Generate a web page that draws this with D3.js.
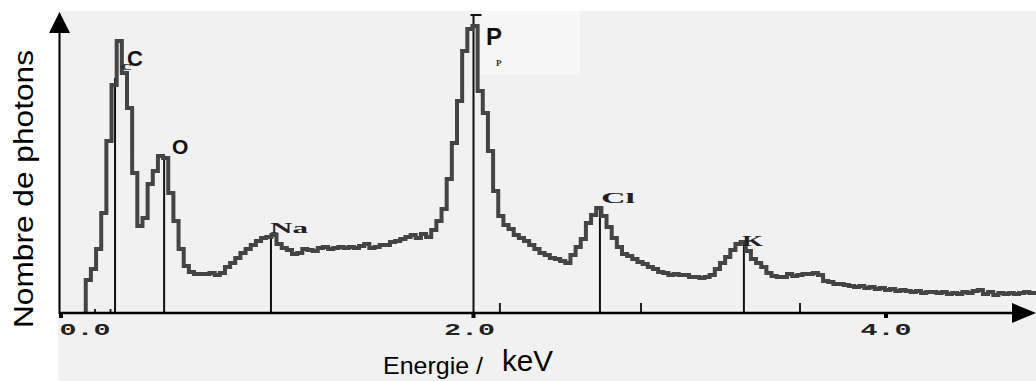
<!DOCTYPE html>
<html>
<head>
<meta charset="utf-8">
<script src="https://cdn.jsdelivr.net/npm/d3@7"></script>
<style>
  html, body { margin: 0; padding: 0; background: #ffffff; }
  svg { display: block; }
</style>
</head>
<body>
<svg id="chart" width="1036" height="381"></svg>
<script>
// ---- data ----
const channelStart = 0.12;      // keV, first channel
const channelWidth = 0.025;     // keV per channel
const counts = [33,44,64,100,172,228,272,240,205,140,
  87,95,129,142,157,155,120,92,64,47,
  41,39,39,39,40,38,40,46,50,55,
  60,64,68,72,75,76,78,69,65,63,
  59,60,64,63,62,65,66,64,65,66,
  65,66,65,67,69,65,66,68,68,71,
  72,74,76,78,75,79,76,83,92,104,
  134,170,212,262,284,287,222,200,162,122,
  97,88,84,78,75,72,68,64,60,58,
  55,54,52,50,58,66,74,90,98,105,
  97,86,75,66,59,57,54,51,49,46,
  44,41,40,38,39,38,38,36,36,35,
  36,38,44,50,56,63,69,71,62,54,
  50,46,40,37,36,36,39,37,38,39,
  39,40,38,32,31,29,29,28,27,26,
  27,25,26,24,25,23,24,22,23,22,
  21,22,20,21,21,20,21,19,20,19,
  21,20,22,23,19,21,18,20,19,20,
  19,20,21,20,20];

const elements      = ["C", "O", "Na", "P", "Cl", "K"];
const elementEnergy = [0.262, 0.50, 1.018, 2.0, 2.613, 3.311];
const elementTop    = [235, 155, 77, 299, 104, 70];

const tickValues = [0, 2, 4];
const tickLabels = ["0.0", "2.0", "4.0"];
const minorMarks = [0.165, 0.24, 2.128, 2.812, 3.583];

const yTitle = "Nombre de photons";
const xTitleA = "Energie /";
const xTitleB = "keV";

// ---- scales ----
const svg = d3.select("#chart");
const x = d3.scaleLinear().domain([0, 4]).range([61, 886]);
const y = d3.scaleLinear().domain([0, 300]).range([313, 13]);
const base = y(0);

// background (scanned page area)
svg.append("rect").attr("x", 58).attr("y", 11).attr("width", 978).attr("height", 370).attr("fill", "#f1f1f1");
// pasted label patch near P
svg.append("rect").attr("x", 480).attr("y", 11).attr("width", 100).attr("height", 64).attr("fill", "#f7f7f7");

// element lines
elements.forEach((el, i) => {
  svg.append("line")
    .attr("x1", x(elementEnergy[i])).attr("x2", x(elementEnergy[i]))
    .attr("y1", base).attr("y2", y(elementTop[i]))
    .attr("stroke", "#111").attr("stroke-width", 2);
});
// small cap on top of P line
svg.append("line")
  .attr("x1", x(elementEnergy[3]) - 3).attr("x2", x(elementEnergy[3]) + 8)
  .attr("y1", y(elementTop[3]) + 1).attr("y2", y(elementTop[3]) + 1)
  .attr("stroke", "#111").attr("stroke-width", 2);

// spectrum (step histogram)
const pts = [{e: channelStart, c: 0}].concat(
  counts.map((c, i) => ({e: channelStart + i * channelWidth, c: c})));
pts.push({e: channelStart + counts.length * channelWidth, c: counts[counts.length - 1]});
const line = d3.line().x(d => x(d.e)).y(d => y(d.c)).curve(d3.curveStepAfter);
svg.append("path").datum(pts).attr("d", line)
  .attr("fill", "none").attr("stroke", "#444").attr("stroke-width", 4)
  .attr("stroke-linejoin", "miter");

// minor marks above axis
svg.selectAll(".mm").data(minorMarks).enter().append("line")
  .attr("x1", d => x(d)).attr("x2", d => x(d))
  .attr("y1", (d, i) => base - (i < 2 ? 4 : 10)).attr("y2", base)
  .attr("stroke", "#222").attr("stroke-width", 2);

// axes
svg.append("line").attr("x1", 59).attr("x2", 1018).attr("y1", base).attr("y2", base)
  .attr("stroke", "#000").attr("stroke-width", 2.5);
svg.append("path").attr("d", "M1036," + base + " L1012," + (base - 10) + " L1012," + (base + 10) + " Z")
  .attr("fill", "#000");
svg.append("line").attr("x1", 59.5).attr("x2", 59.5).attr("y1", base + 1).attr("y2", 30)
  .attr("stroke", "#000").attr("stroke-width", 2);
svg.append("path").attr("d", "M59.5,12 L49,33 L70,33 Z").attr("fill", "#000");

// major tick marks & labels
svg.selectAll(".tk").data(tickValues).enter().append("rect")
  .attr("x", d => x(d) - 2).attr("y", base).attr("width", 4).attr("height", 5).attr("fill", "#000");
const labelOffset = [24, -4, 0];
svg.selectAll(".tl").data(tickValues).enter().append("text")
  .attr("x", (d, i) => x(d) + labelOffset[i]).attr("y", 335)
  .attr("text-anchor", "middle")
  .attr("font-family", "Liberation Mono, monospace").attr("font-weight", "bold")
  .attr("font-size", 16).attr("textLength", 51).attr("lengthAdjust", "spacingAndGlyphs")
  .attr("fill", "#222")
  .text((d, i) => tickLabels[i]);

// element labels
const sans = "Liberation Sans, Arial, sans-serif";
const serif = "Liberation Serif, Times New Roman, serif";
function label(txt, xx, yy, fam, size, len, col) {
  const t = svg.append("text").attr("x", xx).attr("y", yy)
    .attr("font-family", fam).attr("font-weight", "bold").attr("font-size", size)
    .attr("fill", col || "#111").text(txt);
  if (len) t.attr("textLength", len).attr("lengthAdjust", "spacingAndGlyphs");
}
label("c", 120, 70, serif, 13, 12, "#333");
label(elements[0], 127, 66, sans, 22);
label(elements[1], 172, 154, sans, 21);
label(elements[2], 270, 233, serif, 14, 38, "#222");
label(elements[3], 486, 45, sans, 24);
label("P", 496, 66, serif, 9, null, "#333");
label(elements[4], 601, 203, serif, 14, 34, "#222");
label(elements[5], 742, 246, serif, 14, 21, "#222");

// axis titles
svg.append("text")
  .attr("transform", "translate(33,328) rotate(-90)")
  .attr("font-family", sans).attr("font-size", 27)
  .attr("textLength", 278).attr("lengthAdjust", "spacingAndGlyphs")
  .attr("fill", "#000").text(yTitle);
svg.append("text").attr("x", 383).attr("y", 374)
  .attr("font-family", sans).attr("font-size", 24)
  .attr("textLength", 100).attr("lengthAdjust", "spacingAndGlyphs")
  .attr("fill", "#000").text(xTitleA);
svg.append("text").attr("x", 502).attr("y", 371)
  .attr("font-family", sans).attr("font-size", 30)
  .attr("textLength", 51).attr("lengthAdjust", "spacingAndGlyphs")
  .attr("fill", "#000").text(xTitleB);
</script>
</body>
</html>
